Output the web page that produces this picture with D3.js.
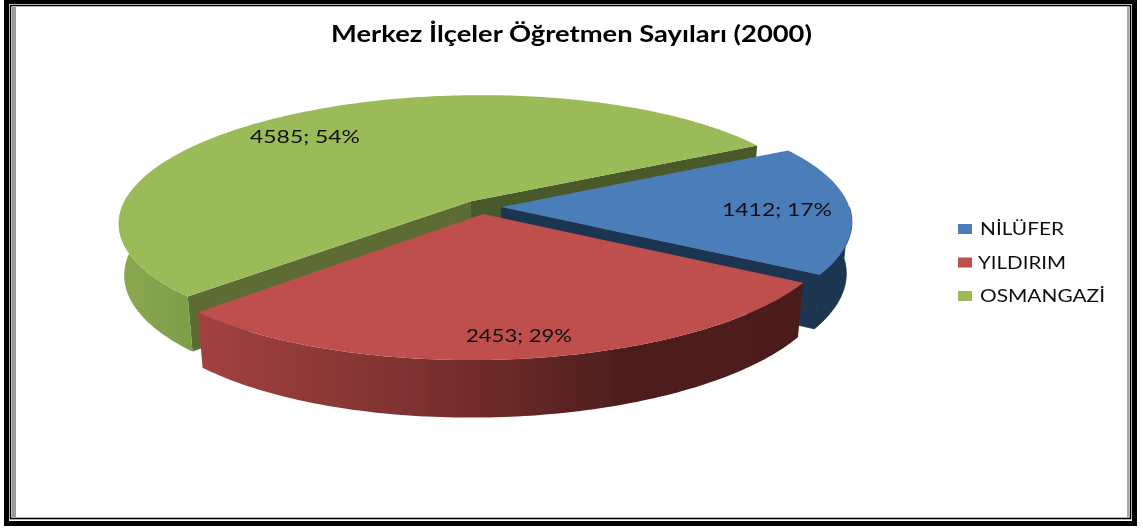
<!DOCTYPE html>
<html><head><meta charset="utf-8">
<style>html,body{margin:0;padding:0;background:#fff}svg{display:block}</style>
<script src="https://cdn.jsdelivr.net/npm/d3@7/dist/d3.min.js"></script>
</head><body><svg id="c" width="1143" height="528"></svg>
<script>
const chartTitle = "Merkez İlçeler Öğretmen Sayıları (2000)";
const categories = ["NİLÜFER", "YILDIRIM", "OSMANGAZİ"];
const values = [1412, 2453, 4585];
const percents = [17, 29, 54];
const topColors = ["#4C7DB9", "#BE4F4E", "#9BBB59"];

const svg = d3.select("#c");
const FONT = "Lato,'Open Sans',sans-serif";

// Frame
const border = svg.append("g");
border.append("rect").attr("x",6.5).attr("y",1.5).attr("width",1128).attr("height",522).attr("fill","none").attr("stroke","#000").attr("stroke-width",5);
border.append("rect").attr("x",10.5).attr("y",5.5).attr("width",1120).attr("height",513).attr("fill","none").attr("stroke","#000").attr("stroke-width",1.6);
border.append("rect").attr("x",12).attr("y",7).attr("width",4).attr("height",510).attr("fill","#9a9a9a");
border.append("rect").attr("x",1127).attr("y",7).attr("width",2).attr("height",510).attr("fill","#a8a8a8");

// Perspective projection of the pie plane
const X0 = 481.5, Y0 = 207, Ax = 348, Ay = 123, K = 0.143, DEPTH = 52, M = 0.015, EXPLODE = 0.057, SHEAR = 0.09;
function proj(u, v, z) {
  const w = 1 + K * v + M * z;
  return [X0 + Ax * u / w + SHEAR * Ay * v / w, Y0 - Ay * v / w + DEPTH * z / w];
}
const pie = d3.pie().sort(null).startAngle(Math.PI * 60.5 / 180).endAngle(Math.PI * 420.5 / 180);
const arcs = pie(values);
const pathLine = d3.line();
const STEP = Math.PI / 180;

function slice(a) {
  const mid = (a.startAngle + a.endAngle) / 2;
  const ox = EXPLODE * Math.sin(mid), oy = EXPLODE * Math.cos(mid);
  const rim = (t, z) => proj(ox + Math.sin(t), oy + Math.cos(t), z);
  const apex = z => proj(ox, oy, z);
  return {rim, apex};
}
function angles(a, b) {
  const n = Math.max(2, Math.ceil((b - a) / STEP));
  return d3.range(n + 1).map(i => a + (b - a) * i / n);
}
function wall(s, a, b) {
  const ts = angles(a, b);
  return pathLine(ts.map(t => s.rim(t, 0)).concat(ts.slice().reverse().map(t => s.rim(t, 1)))) + "Z";
}
function topFace(s, a, b) {
  return pathLine([s.apex(0)].concat(angles(a, b).map(t => s.rim(t, 0)))) + "Z";
}
function cut(s, t) {
  return pathLine([s.apex(0), s.rim(t, 0), s.rim(t, 1), s.apex(1)]) + "Z";
}

const defs = svg.append("defs");
defs.append("filter").attr("id","soft").append("feGaussianBlur").attr("stdDeviation",0.35);
function grad(id, stops) {
  const g = defs.append("linearGradient").attr("id", id).attr("gradientUnits","userSpaceOnUse")
    .attr("x1",120).attr("x2",850).attr("y1",0).attr("y2",0);
  stops.forEach(([o, c]) => g.append("stop").attr("offset", o).attr("stop-color", c));
}
grad("redWall", [[0.11,"#A34140"],[0.3,"#8A3735"],[0.5,"#702B2B"],[0.68,"#4F1F1F"],[1,"#4B1D1D"]]);
grad("greenWall", [[0,"#8BA850"],[0.1,"#7F9C49"]]);

const pieG = svg.append("g").attr("filter","url(#soft)");
const [blue, red, green] = arcs;
const sB = slice(blue), sR = slice(red), sG = slice(green);

// Green (rear)
pieG.append("path").attr("d", cut(sG, green.endAngle)).attr("fill","#4A5A2A");
pieG.append("path").attr("d", cut(sG, green.startAngle)).attr("fill","#5B6C33");
pieG.append("path").attr("d", wall(sG, green.startAngle, 1.5 * Math.PI + 0.05)).attr("fill","url(#greenWall)");
pieG.append("path").attr("d", topFace(sG, green.startAngle, green.endAngle)).attr("fill", topColors[2]);
// Blue
pieG.append("path").attr("d", cut(sB, blue.endAngle)).attr("fill","#1F3551").attr("stroke","#1F3551").attr("stroke-width",0.8);
pieG.append("path").attr("d", wall(sB, Math.PI / 2, blue.endAngle)).attr("fill","#1F3551").attr("stroke","#1F3551").attr("stroke-width",0.8);
pieG.append("path").attr("d", topFace(sB, blue.startAngle, blue.endAngle)).attr("fill", topColors[0]);
// Red
pieG.append("path").attr("d", wall(sR, red.startAngle, red.endAngle)).attr("fill","url(#redWall)");
pieG.append("path").attr("d", topFace(sR, red.startAngle, red.endAngle)).attr("fill", topColors[1]);

// Data labels
const labelPos = [[777, 216], [519, 342], [305, 143]];
const labelW = [110, 106, 110];
const txt = svg.append("g").attr("filter","url(#soft)").attr("font-family",FONT).attr("fill","#111");
txt.selectAll("text").data(values).join("text")
  .attr("x",(d,i)=>labelPos[i][0]).attr("y",(d,i)=>labelPos[i][1])
  .attr("text-anchor","middle").attr("font-size",18)
  .attr("textLength",(d,i)=>labelW[i]).attr("lengthAdjust","spacingAndGlyphs")
  .text((d,i)=>`${d}; ${percents[i]}%`);

// Title
txt.append("text").attr("x",571.5).attr("y",42).attr("text-anchor","middle")
  .attr("font-size",22).attr("font-weight",700).attr("fill","#000")
  .attr("textLength",481).attr("lengthAdjust","spacingAndGlyphs").text(chartTitle);

// Legend
const ly = d3.scalePoint().domain(categories).range([229, 296]);
const legendW = [84, 88, 125];
const legendX = [980, 978, 980];
const leg = svg.append("g").attr("filter","url(#soft)").selectAll("g").data(categories).join("g");
leg.append("rect").attr("x",958).attr("y",d=>ly(d)-5).attr("width",14).attr("height",10).attr("fill",(d,i)=>topColors[i]);
leg.append("text").attr("x",(d,i)=>legendX[i]).attr("y",d=>ly(d)+6).attr("font-family",FONT).attr("font-size",17).attr("fill","#111")
  .attr("textLength",(d,i)=>legendW[i]).attr("lengthAdjust","spacingAndGlyphs").text(d=>d);
</script></body></html>
